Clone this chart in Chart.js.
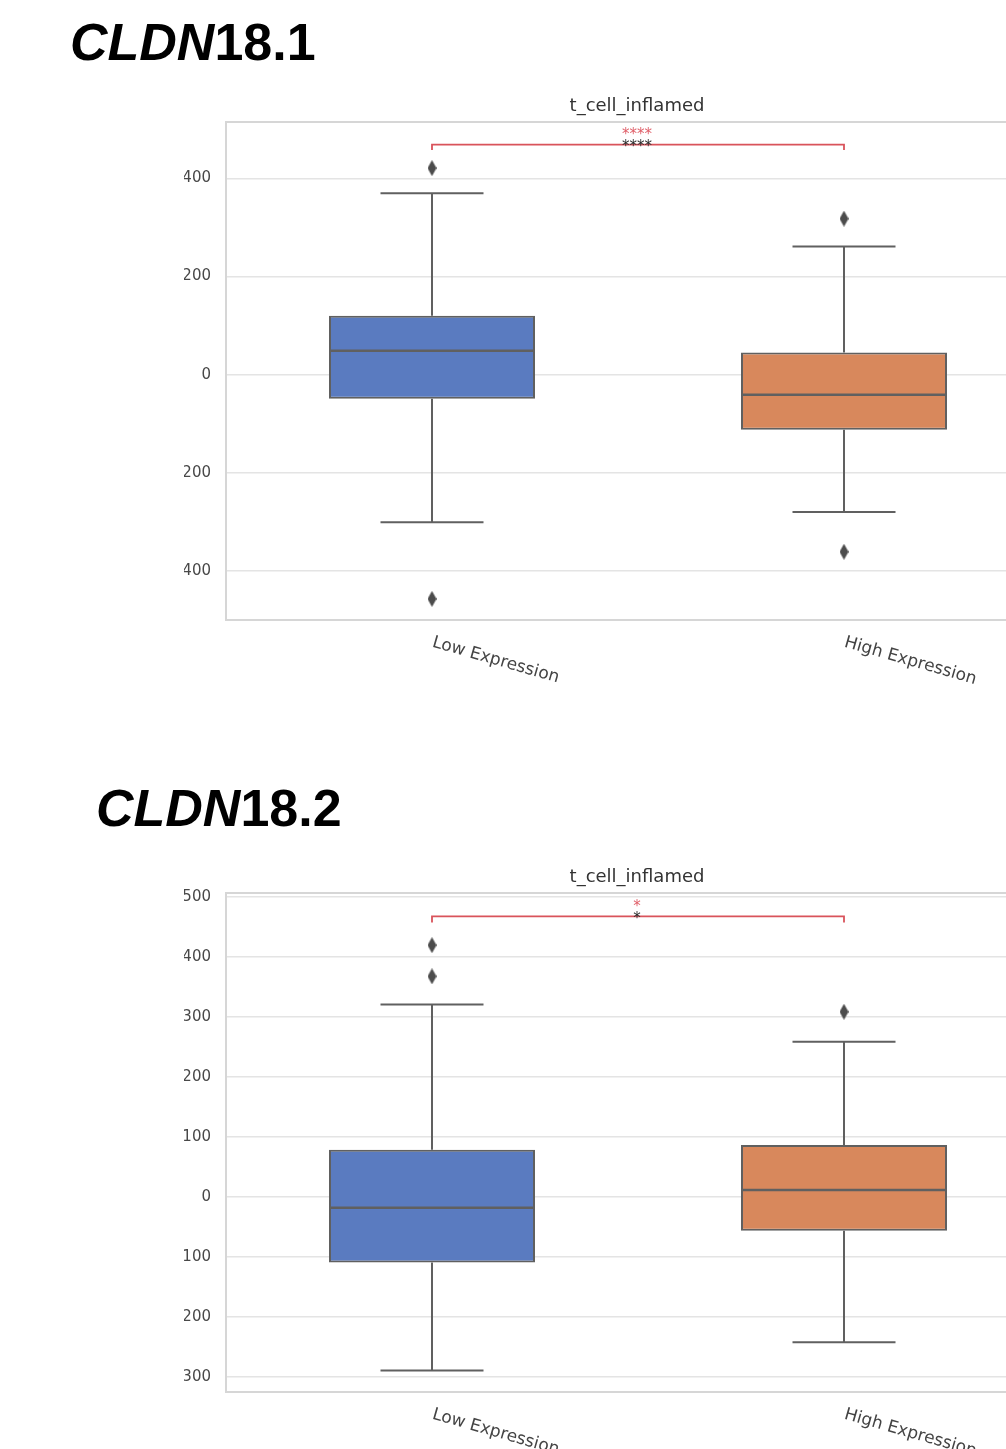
<!DOCTYPE html>
<html>
<head>
<meta charset="utf-8">
<title>CLDN18 t_cell_inflamed</title>
<script src="https://cdn.jsdelivr.net/npm/chart.js@4.4.1/dist/chart.umd.min.js"></script>
<style>
  html, body { margin: 0; padding: 0; background: #ffffff; overflow: hidden; }
  body { position: relative; width: 1006px; height: 1449px; }
  .heading {
    position: absolute; margin: 0;
    font-family: "Liberation Sans", Arial, sans-serif;
    font-weight: bold; font-size: 52px; line-height: 52px; color: #000;
  }
  .heading i { font-style: italic; }
  .clip { position: absolute; overflow: hidden; }
  .clip canvas { position: absolute; top: 0; }
</style>
</head>
<body>
<div class="heading" style="left:70px; top:16px;"><i>CLDN</i>18.1</div>
<div class="clip" style="left:184px; top:90px; width:822px; height:598px;">
  <canvas id="chart1" width="940" height="598" style="left:-64px;"></canvas>
</div>

<div class="heading" style="left:96px; top:782px;"><i>CLDN</i>18.2</div>
<div class="clip" style="left:184px; top:861px; width:822px; height:599px;">
  <canvas id="chart2" width="940" height="599" style="left:-64px;"></canvas>
</div>

<script>
// Groups on the x axis
const categories = ['Low Expression', 'High Expression'];
const plotTitle = 't_cell_inflamed';

// CLDN18.1 box statistics (per group)
const c1Q1 = [-49, -112];
const c1Median = [49, -41];
const c1Q3 = [120, 45];
const c1WhiskerLow = [-301, -280];
const c1WhiskerHigh = [370, 261];
const c1Outliers = [[421, -457], [318, -361]];
const c1Range = [-500, 515];
const c1Ticks = [-400, -200, 0, 200, 400];
const c1Bracket = [458, 469];
const c1Stars = ['****', '****'];

// CLDN18.2 box statistics (per group)
const c2Q1 = [-109, -56];
const c2Median = [-18, 12];
const c2Q3 = [79, 87];
const c2WhiskerLow = [-289, -242];
const c2WhiskerHigh = [321, 259];
const c2Outliers = [[420, 368], [309]];
const c2Range = [-325, 507];
const c2Ticks = [-300, -200, -100, 0, 100, 200, 300, 400, 500];
const c2Bracket = [458, 468];
const c2Stars = ['*', '*'];

const boxColors = ['#5a7bc0', '#d8885c'];
const edgeColor = '#606060';
const bracketColor = '#d9535b';
const starColors = ['#e0606a', '#2a2a2a'];

function diamond(w, h, color) {
  const c = document.createElement('canvas');
  c.width = w; c.height = h;
  const g = c.getContext('2d');
  g.fillStyle = color;
  g.beginPath();
  g.moveTo(w / 2, 0); g.lineTo(w, h / 2); g.lineTo(w / 2, h); g.lineTo(0, h / 2);
  g.closePath(); g.fill();
  return c;
}
const flierMarker = diamond(9, 16, '#4c4c4c');

// Frame, title, whiskers, medians, significance stars and slanted group labels
const boxDecor = {
  id: 'boxDecor',
  beforeDatasetsDraw(chart) {
    const { ctx, chartArea: a } = chart;
    ctx.save();
    ctx.strokeStyle = '#d6d6d6';
    ctx.lineWidth = 2;
    ctx.strokeRect(a.left, a.top, a.right - a.left, a.bottom - a.top);
    ctx.restore();
  },
  afterDatasetsDraw(chart, args, opts) {
    const { ctx } = chart;
    const xs = chart.scales.x, ys = chart.scales.y;
    const bars = chart.getDatasetMeta(0).data;
    ctx.save();
    ctx.strokeStyle = edgeColor;
    ctx.lineCap = 'butt';
    categories.forEach((cat, i) => {
      const x = xs.getPixelForValue(i);
      const w = bars[i].width;
      const yQ1 = ys.getPixelForValue(opts.q1[i]);
      const yQ3 = ys.getPixelForValue(opts.q3[i]);
      const yLo = ys.getPixelForValue(opts.whiskerLow[i]);
      const yHi = ys.getPixelForValue(opts.whiskerHigh[i]);
      ctx.lineWidth = 2;
      ctx.beginPath();
      ctx.moveTo(x, yQ3); ctx.lineTo(x, yHi);
      ctx.moveTo(x, yQ1); ctx.lineTo(x, yLo);
      ctx.moveTo(x - w / 4, yHi); ctx.lineTo(x + w / 4, yHi);
      ctx.moveTo(x - w / 4, yLo); ctx.lineTo(x + w / 4, yLo);
      ctx.stroke();
      const yMed = ys.getPixelForValue(opts.median[i]);
      ctx.lineWidth = 2.5;
      ctx.beginPath();
      ctx.moveTo(x - w / 2, yMed); ctx.lineTo(x + w / 2, yMed);
      ctx.stroke();
    });
    // significance stars above the bracket
    const xm = (xs.getPixelForValue(0) + xs.getPixelForValue(1)) / 2;
    const yb = ys.getPixelForValue(opts.bracketTop);
    ctx.font = '15px "DejaVu Sans"';
    ctx.textAlign = 'center';
    ctx.textBaseline = 'middle';
    ctx.fillStyle = starColors[0];
    ctx.fillText(opts.stars[0], xm - 1, yb - 9);
    ctx.fillStyle = starColors[1];
    ctx.fillText(opts.stars[1], xm - 1, yb + 3);
    ctx.restore();
  },
  afterDraw(chart) {
    const { ctx, chartArea: a } = chart;
    const xs = chart.scales.x;
    ctx.save();
    ctx.fillStyle = '#333333';
    ctx.font = '18px "DejaVu Sans"';
    ctx.textAlign = 'center';
    ctx.textBaseline = 'middle';
    ctx.fillText(plotTitle, (a.left + a.right) / 2 - 1, a.top - 16);
    ctx.font = '17px "DejaVu Sans"';
    ctx.fillStyle = '#444444';
    ctx.textAlign = 'left';
    ctx.textBaseline = 'top';
    categories.forEach((cat, i) => {
      ctx.save();
      ctx.translate(xs.getPixelForValue(i) + 3, a.bottom + 14);
      ctx.rotate(16 * Math.PI / 180);
      ctx.fillText(cat, 0, 0);
      ctx.restore();
    });
    ctx.restore();
  }
};

function makeChart(id, s) {
  const fliers = [];
  s.outliers.forEach((vals, i) => vals.forEach(v => fliers.push({ x: categories[i], y: v })));
  const bracket = [
    { x: categories[0], y: s.bracket[0] },
    { x: categories[0], y: s.bracket[1] },
    { x: categories[1], y: s.bracket[1] },
    { x: categories[1], y: s.bracket[0] }
  ];
  return new Chart(document.getElementById(id), {
    type: 'bar',
    data: {
      labels: categories,
      datasets: [
        {
          type: 'bar',
          data: categories.map((c, i) => [s.q1[i], s.q3[i]]),
          backgroundColor: boxColors,
          borderColor: edgeColor,
          borderWidth: 2,
          borderSkipped: false,
          barPercentage: 0.5,
          categoryPercentage: 1.0,
          order: 2
        },
        {
          type: 'scatter',
          data: fliers,
          pointStyle: flierMarker,
          pointRadius: 6,
          showLine: false,
          order: 1
        },
        {
          type: 'line',
          data: bracket,
          borderColor: bracketColor,
          borderWidth: 1.8,
          pointRadius: 0,
          fill: false,
          tension: 0,
          order: 0
        }
      ]
    },
    options: {
      responsive: false,
      devicePixelRatio: 1,
      animation: false,
      layout: { padding: { top: 32, right: 10, left: 0, bottom: 0 } },
      plugins: {
        legend: { display: false },
        tooltip: { enabled: false },
        title: { display: false },
        boxDecor: {
          q1: s.q1, q3: s.q3, median: s.median,
          whiskerLow: s.whiskerLow, whiskerHigh: s.whiskerHigh,
          bracketTop: s.bracket[1], stars: s.stars
        }
      },
      scales: {
        x: {
          type: 'category',
          offset: true,
          grid: { display: false },
          border: { display: false },
          ticks: { display: false },
          afterFit: sc => { sc.height = 68; }
        },
        y: {
          min: s.range[0],
          max: s.range[1],
          grid: { color: '#e4e4e4', lineWidth: 1.5, drawTicks: false },
          border: { display: false },
          ticks: {
            padding: 15,
            color: '#484848',
            font: { family: 'DejaVu Sans', size: 15 }
          },
          afterBuildTicks: sc => { sc.ticks = s.ticks.map(v => ({ value: v })); },
          afterFit: sc => { sc.width = 106; }
        }
      }
    },
    plugins: [boxDecor]
  });
}

makeChart('chart1', {
  q1: c1Q1, q3: c1Q3, median: c1Median, whiskerLow: c1WhiskerLow, whiskerHigh: c1WhiskerHigh,
  outliers: c1Outliers, range: c1Range, ticks: c1Ticks, bracket: c1Bracket, stars: c1Stars
});
makeChart('chart2', {
  q1: c2Q1, q3: c2Q3, median: c2Median, whiskerLow: c2WhiskerLow, whiskerHigh: c2WhiskerHigh,
  outliers: c2Outliers, range: c2Range, ticks: c2Ticks, bracket: c2Bracket, stars: c2Stars
});
</script>
</body>
</html>
